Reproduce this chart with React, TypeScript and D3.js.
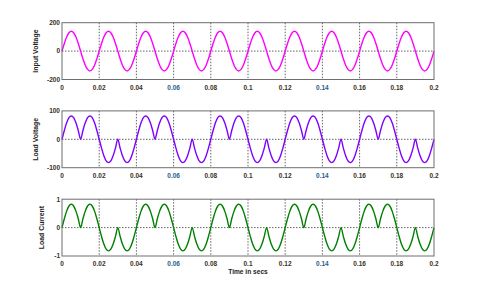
import React from "react";
import * as d3 from "d3";

// sample step of the waveforms (seconds)
const sampleStep = 0.00125;

// Input voltage samples (V), one value per sampleStep, t = 0 .. 0.2
const inputVoltage = [
  0, 54, 99, 129, 140, 129, 99, 54, 0, -54, -99, -129, -140, -129, -99, -54,
  0, 54, 99, 129, 140, 129, 99, 54, 0, -54, -99, -129, -140, -129, -99, -54,
  0, 54, 99, 129, 140, 129, 99, 54, 0, -54, -99, -129, -140, -129, -99, -54,
  0, 54, 99, 129, 140, 129, 99, 54, 0, -54, -99, -129, -140, -129, -99, -54,
  0, 54, 99, 129, 140, 129, 99, 54, 0, -54, -99, -129, -140, -129, -99, -54,
  0, 54, 99, 129, 140, 129, 99, 54, 0, -54, -99, -129, -140, -129, -99, -54,
  0, 54, 99, 129, 140, 129, 99, 54, 0, -54, -99, -129, -140, -129, -99, -54,
  0, 54, 99, 129, 140, 129, 99, 54, 0, -54, -99, -129, -140, -129, -99, -54,
  0, 54, 99, 129, 140, 129, 99, 54, 0, -54, -99, -129, -140, -129, -99, -54,
  0, 54, 99, 129, 140, 129, 99, 54, 0, -54, -99, -129, -140, -129, -99, -54,
  0,
];

// Load voltage samples (V)
const loadVoltage = [
  0, 31, 58, 76, 82, 76, 58, 31, 0, 31, 58, 76, 82, 76, 58, 31,
  0, -31, -58, -76, -82, -76, -58, -31, 0, -31, -58, -76, -82, -76, -58, -31,
  0, 31, 58, 76, 82, 76, 58, 31, 0, 31, 58, 76, 82, 76, 58, 31,
  0, -31, -58, -76, -82, -76, -58, -31, 0, -31, -58, -76, -82, -76, -58, -31,
  0, 31, 58, 76, 82, 76, 58, 31, 0, 31, 58, 76, 82, 76, 58, 31,
  0, -31, -58, -76, -82, -76, -58, -31, 0, -31, -58, -76, -82, -76, -58, -31,
  0, 31, 58, 76, 82, 76, 58, 31, 0, 31, 58, 76, 82, 76, 58, 31,
  0, -31, -58, -76, -82, -76, -58, -31, 0, -31, -58, -76, -82, -76, -58, -31,
  0, 31, 58, 76, 82, 76, 58, 31, 0, 31, 58, 76, 82, 76, 58, 31,
  0, -31, -58, -76, -82, -76, -58, -31, 0, -31, -58, -76, -82, -76, -58, -31,
  0,
];

// Load current samples (A)
const loadCurrent = [
  0, 0.31, 0.58, 0.76, 0.82, 0.76, 0.58, 0.31, 0, 0.31, 0.58, 0.76, 0.82, 0.76, 0.58, 0.31,
  0, -0.31, -0.58, -0.76, -0.82, -0.76, -0.58, -0.31, 0, -0.31, -0.58, -0.76, -0.82, -0.76, -0.58, -0.31,
  0, 0.31, 0.58, 0.76, 0.82, 0.76, 0.58, 0.31, 0, 0.31, 0.58, 0.76, 0.82, 0.76, 0.58, 0.31,
  0, -0.31, -0.58, -0.76, -0.82, -0.76, -0.58, -0.31, 0, -0.31, -0.58, -0.76, -0.82, -0.76, -0.58, -0.31,
  0, 0.31, 0.58, 0.76, 0.82, 0.76, 0.58, 0.31, 0, 0.31, 0.58, 0.76, 0.82, 0.76, 0.58, 0.31,
  0, -0.31, -0.58, -0.76, -0.82, -0.76, -0.58, -0.31, 0, -0.31, -0.58, -0.76, -0.82, -0.76, -0.58, -0.31,
  0, 0.31, 0.58, 0.76, 0.82, 0.76, 0.58, 0.31, 0, 0.31, 0.58, 0.76, 0.82, 0.76, 0.58, 0.31,
  0, -0.31, -0.58, -0.76, -0.82, -0.76, -0.58, -0.31, 0, -0.31, -0.58, -0.76, -0.82, -0.76, -0.58, -0.31,
  0, 0.31, 0.58, 0.76, 0.82, 0.76, 0.58, 0.31, 0, 0.31, 0.58, 0.76, 0.82, 0.76, 0.58, 0.31,
  0, -0.31, -0.58, -0.76, -0.82, -0.76, -0.58, -0.31, 0, -0.31, -0.58, -0.76, -0.82, -0.76, -0.58, -0.31,
  0,
];

const xTicks = [0, 0.02, 0.04, 0.06, 0.08, 0.1, 0.12, 0.14, 0.16, 0.18, 0.2];
const xTickLabels = ["0", "0.02", "0.04", "0.06", "0.08", "0.1", "0.12", "0.14", "0.16", "0.18", "0.2"];
const blueTickLabels = ["0.06", "0.14"];

const panelTitles = ["Input Voltage", "Load Voltage", "Load Current"];
const panelSeries = [inputVoltage, loadVoltage, loadCurrent];
const panelDomains: [number, number][] = [[-200, 200], [-100, 100], [-1, 1]];
const panelYTicks = [[-200, 0, 200], [-100, 0, 100], [-1, 0, 1]];
const panelColors = ["#ff00ff", "#8000ff", "#008000"];
const panelTops = [22.7, 110.9, 199.2];
const panelLabelX = [38, 38, 44];
const xLabel = "Time in secs";

const W = 480;
const H = 295;
const plotLeft = 62;
const plotRight = 434;
const plotH = 56.8;
const font = "'Liberation Sans', Arial, sans-serif";
const tickColor = "#3a3124";
const blueColor = "#2a5d8c";

export default function App() {
  const x = d3.scaleLinear().domain([0, 0.2]).range([plotLeft, plotRight]);

  return (
    <svg
      width={W}
      height={H}
      style={{ position: "absolute", left: 0, top: 0, background: "#fff" }}
    >
      {panelSeries.map((series, pi) => {
        const top = panelTops[pi];
        const y = d3.scaleLinear().domain(panelDomains[pi]).range([top + plotH, top]);
        const line = d3
          .line<number>()
          .x((_, i) => x(i * sampleStep))
          .y((d) => y(d))
          .curve(d3.curveMonotoneX);
        return (
          <g key={pi}>
            {/* grid */}
            {xTicks.slice(1, -1).map((t) => (
              <line
                key={"g" + t}
                x1={x(t)}
                x2={x(t)}
                y1={top}
                y2={top + plotH}
                stroke="#222"
                strokeWidth={0.7}
                strokeDasharray="1.5,1.5"
              />
            ))}
            <line
              x1={plotLeft}
              x2={plotRight}
              y1={y(0)}
              y2={y(0)}
              stroke="#222"
              strokeWidth={0.7}
              strokeDasharray="1.5,1.5"
            />
            {/* series */}
            <path d={line(series) || ""} fill="none" stroke={panelColors[pi]} strokeWidth={1.4} />
            {/* frame */}
            <rect
              x={plotLeft}
              y={top}
              width={plotRight - plotLeft}
              height={plotH}
              fill="none"
              stroke="#6e6e6e"
              strokeWidth={1}
            />
            {/* x tick labels */}
            {xTicks.map((t, i) => (
              <text
                key={"xt" + t}
                x={x(t)}
                y={top + plotH + 10.2}
                fontFamily={font}
                fontWeight="bold"
                fontSize={6.5}
                textAnchor="middle"
                fill={blueTickLabels.includes(xTickLabels[i]) ? blueColor : tickColor}
              >
                {xTickLabels[i]}
              </text>
            ))}
            {/* y tick labels */}
            {panelYTicks[pi].map((v) => (
              <text
                key={"yt" + v}
                x={plotLeft - 2}
                y={y(v) + 2.3}
                fontFamily={font}
                fontWeight="bold"
                fontSize={6.5}
                textAnchor="end"
                fill={tickColor}
              >
                {v}
              </text>
            ))}
            {/* y label */}
            <text
              transform={`translate(${panelLabelX[pi]},${top + plotH / 2}) rotate(-90)`}
              fontFamily={font}
              fontWeight="bold"
              fontSize={6.9}
              textAnchor="middle"
              fill="#222"
            >
              {panelTitles[pi]}
            </text>
          </g>
        );
      })}
      <text
        x={(plotLeft + plotRight) / 2}
        y={273.5}
        fontFamily={font}
        fontWeight="bold"
        fontSize={6.6}
        textAnchor="middle"
        fill="#222"
      >
        {xLabel}
      </text>
    </svg>
  );
}
